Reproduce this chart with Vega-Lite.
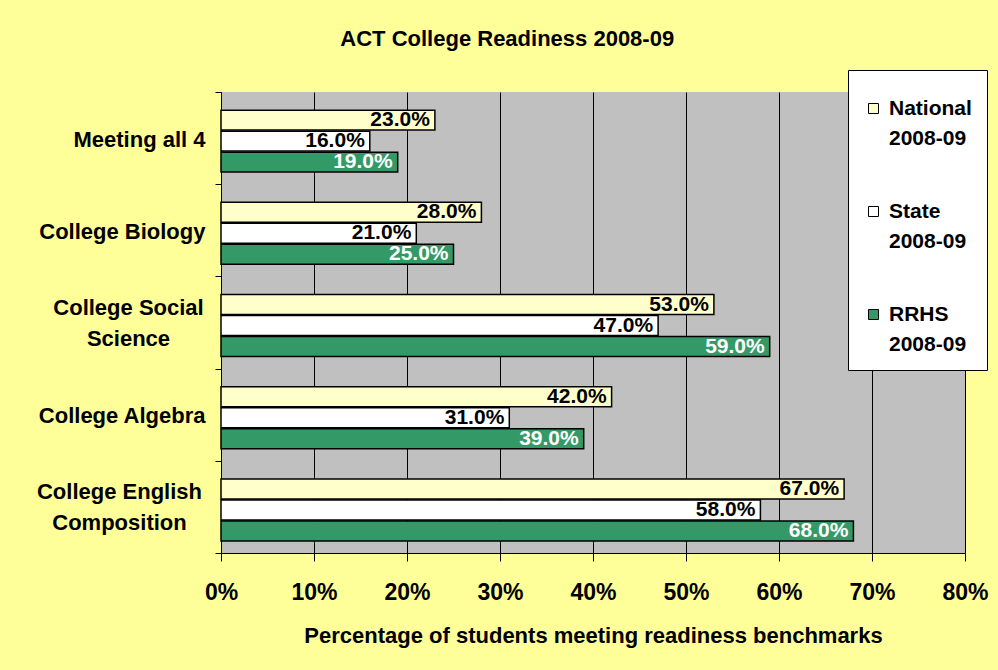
{
  "$schema": "https://vega.github.io/schema/vega-lite/v6.json",
  "autosize": {"type": "none"},
  "width": 744,
  "height": 461,
  "padding": {"left": 221, "top": 92, "right": 33, "bottom": 117},
  "background": "#FFFF99",
  "config": {
    "font": "Liberation Sans",
    "view": {"fill": "#C0C0C0", "stroke": null}
  },
  "title": {
    "text": "ACT College Readiness 2008-09",
    "fontSize": 22,
    "fontWeight": "bold",
    "font": "Liberation Sans",
    "color": "black",
    "anchor": "middle",
    "frame": "bounds",
    "offset": 19,
    "dx": -5
  },
  "data": {
    "values": [
      {"category": "Meeting all 4", "series": "National 2008-09", "value": 0.23},
      {"category": "Meeting all 4", "series": "State 2008-09", "value": 0.16},
      {"category": "Meeting all 4", "series": "RRHS 2008-09", "value": 0.19},
      {"category": "College Biology", "series": "National 2008-09", "value": 0.28},
      {"category": "College Biology", "series": "State 2008-09", "value": 0.21},
      {"category": "College Biology", "series": "RRHS 2008-09", "value": 0.25},
      {"category": "College Social Science", "series": "National 2008-09", "value": 0.53},
      {"category": "College Social Science", "series": "State 2008-09", "value": 0.47},
      {"category": "College Social Science", "series": "RRHS 2008-09", "value": 0.59},
      {"category": "College Algebra", "series": "National 2008-09", "value": 0.42},
      {"category": "College Algebra", "series": "State 2008-09", "value": 0.31},
      {"category": "College Algebra", "series": "RRHS 2008-09", "value": 0.39},
      {"category": "College English Composition", "series": "National 2008-09", "value": 0.67},
      {"category": "College English Composition", "series": "State 2008-09", "value": 0.58},
      {"category": "College English Composition", "series": "RRHS 2008-09", "value": 0.68}
    ]
  },
  "encoding": {
    "y": {
      "field": "category",
      "type": "nominal",
      "sort": ["Meeting all 4", "College Biology", "College Social Science", "College Algebra", "College English Composition"],
      "scale": {"paddingInner": 0, "paddingOuter": 0},
      "axis": {
        "title": null,
        "tickBand": "extent",
        "domainColor": "black",
        "domainWidth": 1,
        "tickColor": "black",
        "tickSize": 6,
        "labelFont": "Liberation Sans",
        "labelFontSize": 22,
        "labelFontWeight": "bold",
        "labelColor": "black",
        "labelLimit": 0,
        "labelLineHeight": 31,
        "labelExpr": "datum.label == 'College Social Science' ? ['College Social', 'Science'] : datum.label == 'College English Composition' ? ['College English', 'Composition'] : datum.label",
        "labelAlign": {"condition": {"test": "datum.value == 'College Social Science' || datum.value == 'College English Composition'", "value": "center"}, "value": "right"},
        "labelPadding": {"condition": [{"test": "datum.value == 'College Social Science'", "value": 87}, {"test": "datum.value == 'College English Composition'", "value": 96}], "value": 10},
        "labelOffset": {"condition": {"test": "datum.value == 'College Social Science' || datum.value == 'College English Composition'", "value": -15}, "value": 1}
      }
    },
    "yOffset": {
      "field": "series",
      "type": "nominal",
      "sort": ["National 2008-09", "State 2008-09", "RRHS 2008-09"],
      "scale": {"paddingInner": 0.05, "paddingOuter": 0.72, "align": 0.6}
    },
    "x": {
      "field": "value",
      "type": "quantitative",
      "scale": {"domain": [0, 0.8], "nice": false},
      "axis": {
        "title": "Percentage of students meeting readiness benchmarks",
        "titleFont": "Liberation Sans",
        "titleFontSize": 22,
        "titleFontWeight": "bold",
        "titleColor": "black",
        "titlePadding": 21,
        "values": [0, 0.1, 0.2, 0.3, 0.4, 0.5, 0.6, 0.7, 0.8],
        "format": ".0%",
        "grid": true,
        "gridColor": "black",
        "gridWidth": 1,
        "domainColor": "black",
        "tickColor": "black",
        "tickSize": 8,
        "labelFont": "Liberation Sans",
        "labelFontSize": 23,
        "labelFontWeight": "bold",
        "labelColor": "black",
        "labelPadding": 20,
        "labelFlush": false
      }
    }
  },
  "layer": [
    {
      "mark": {"type": "bar", "stroke": "black", "strokeWidth": 1.5},
      "encoding": {
        "fill": {
          "field": "series",
          "type": "nominal",
          "scale": {"domain": ["National 2008-09", "State 2008-09", "RRHS 2008-09"], "range": ["#FFFFCC", "#FFFFFF", "#339966"]},
          "legend": {
            "orient": "none",
            "legendX": 627,
            "legendY": -22,
            "title": " ",
            "titleFontSize": 8,
            "titlePadding": 5,
            "fillColor": "white",
            "strokeColor": "black",
            "padding": 15,
            "symbolType": "square",
            "symbolSize": 100,
            "symbolStrokeColor": "black",
            "symbolStrokeWidth": 1,
            "labelFont": "Liberation Sans",
            "labelFontSize": 21,
            "labelFontWeight": "bold",
            "labelColor": "black",
            "labelLimit": 0,
            "labelOffset": 5,
            "rowPadding": 51,
            "labelExpr": "split(datum.label, ' ')",
            "encode": {"labels": {"update": {"lineHeight": {"value": 30}}}}
          }
        }
      }
    },
    {
      "mark": {"type": "text", "align": "right", "baseline": "middle", "dx": -5, "fontSize": 21, "fontWeight": "bold", "font": "Liberation Sans"},
      "encoding": {
        "text": {"field": "value", "type": "quantitative", "format": ".1%"},
        "color": {"condition": {"test": "datum.series == 'RRHS 2008-09'", "value": "white"}, "value": "black"}
      }
    }
  ]
}
